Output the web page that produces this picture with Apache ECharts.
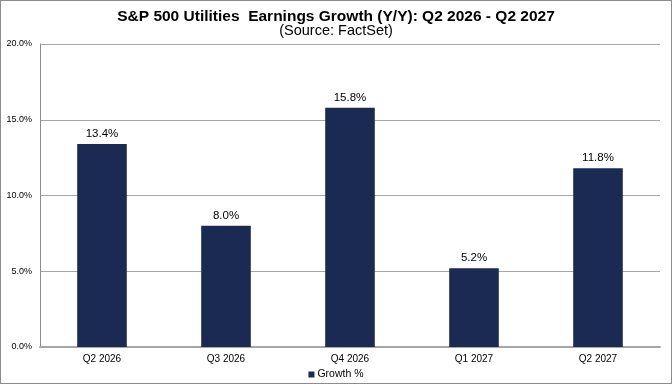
<!DOCTYPE html>
<html>
<head>
<meta charset="utf-8">
<script src="https://cdn.jsdelivr.net/npm/echarts@6/dist/echarts.min.js"></script>
<style>
  html, body { margin: 0; padding: 0; background: #fff; }
  #chart { width: 672px; height: 384px; box-sizing: border-box; border: 1px solid #8c8c8c; }
</style>
</head>
<body>
<div id="chart"></div>
<script>
// categories + values
var quarters = ['Q2 2026', 'Q3 2026', 'Q4 2026', 'Q1 2027', 'Q2 2027'];
var growth = [13.4, 8.0, 15.8, 5.2, 11.8];
var seriesName = 'Growth %';

var myChart = echarts.init(document.getElementById('chart'));
var option = {
  animation: false,
  textStyle: { fontFamily: 'Liberation Sans, Arial, sans-serif' },
  title: {
    text: 'S&P 500 Utilities  Earnings Growth (Y/Y): Q2 2026 - Q2 2027',
    subtext: '(Source: FactSet)',
    left: 'center',
    top: 3,
    itemGap: -2,
    textStyle: { fontSize: 15.5, fontWeight: 'bold', color: '#000' },
    subtextStyle: { fontSize: 14.5, color: '#000' }
  },
  grid: {
    left: 39,
    right: 11,
    top: 43,
    bottom: 36
  },
  legend: {
    bottom: -2,
    left: 'center',
    data: [seriesName],
    icon: 'rect',
    itemWidth: 6,
    itemHeight: 6,
    itemGap: 3,
    textStyle: { fontSize: 10.5, color: '#000', padding: [0, 0, 0, -2] }
  },
  xAxis: {
    type: 'category',
    data: quarters,
    axisTick: { show: false },
    axisLine: { lineStyle: { color: '#a6a6a6', width: 2 } },
    axisLabel: { color: '#000', fontSize: 10, margin: 7 }
  },
  yAxis: {
    type: 'value',
    min: 0,
    max: 20,
    interval: 5,
    axisLine: { show: true, lineStyle: { color: '#8c8c8c' } },
    axisTick: { show: false },
    axisLabel: {
      color: '#000',
      fontSize: 9,
      margin: 8,
      formatter: function (v) { return v.toFixed(1) + '%'; }
    },
    splitLine: { lineStyle: { color: '#a6a6a6' } }
  },
  series: [
    {
      name: seriesName,
      type: 'bar',
      data: growth,
      barWidth: '40%',
      itemStyle: { color: '#1a2a52' },
      label: {
        show: true,
        position: 'top',
        distance: 4,
        color: '#000',
        fontSize: 11.5,
        formatter: function (p) { return p.value.toFixed(1) + '%'; }
      }
    }
  ]
};
myChart.setOption(option);
</script>
</body>
</html>
